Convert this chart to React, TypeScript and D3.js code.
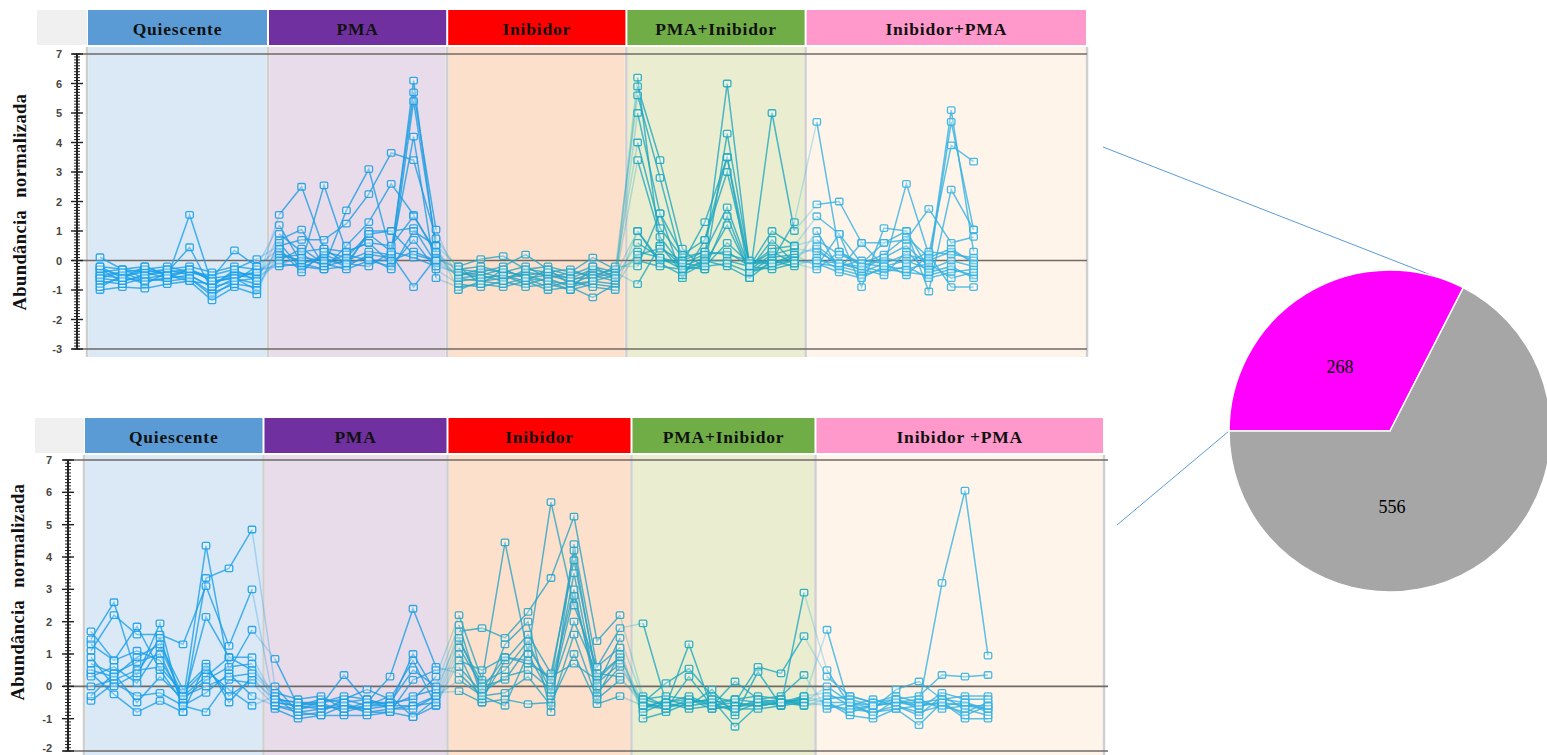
import React from 'react';
import * as d3 from 'd3';

// group names (8 samples each)
const topGroups = ['Quiescente', 'PMA', 'Inibidor', 'PMA+Inibidor', 'Inibidor+PMA'];
const bottomGroups = ['Quiescente', 'PMA', 'Inibidor', 'PMA+Inibidor', 'Inibidor +PMA'];
const topTicks = [7, 6, 5, 4, 3, 2, 1, 0, -1, -2, -3];
const bottomTicks = [7, 6, 5, 4, 3, 2, 1, 0, -1, -2];

// top cluster: profiles, 40 samples each
const topProfiles = [
  [-0.3, -0.5, -0.4, -0.6, 1.55, -0.8, -0.4, -0.5, 0.3, -0.1, 0.1, -0.2, 0.2, 0.1, 6.1, 0.3, -0.4, -0.5, -0.3, -0.6, -0.5, -0.7, -0.4, -0.6, 6.2, 0.5, -0.2, 0.1, 6.0, -0.3, 0.2, 0.4, 0.3, -0.1, -0.3, 0.1, 0.5, -0.2, 5.1, 0.3],
  [-0.6, -0.7, -0.5, -0.4, 0.45, -1.0, -0.6, -0.8, 1.55, 2.5, 0.4, -0.1, 0.9, 0.3, 5.7, 1.05, -0.7, -0.6, -0.5, -0.8, -0.6, -0.9, -0.7, -0.8, 5.9, 3.4, 0.4, -0.3, 4.3, -0.1, 0.0, 1.3, 4.7, 0.3, -0.1, 0.6, 1.0, -0.3, 4.7, 1.05],
  [0.11, -0.3, -0.2, -0.5, -0.3, -0.6, 0.34, -0.2, 1.2, -0.1, 2.55, 0.3, 0.6, -0.1, 5.4, 0.5, -0.2, 0.05, 0.15, -0.3, -0.2, -0.4, 0.1, -0.3, 5.6, 2.8, -0.1, 1.3, 3.5, -0.6, 5.0, 1.0, 1.9, 2.0, 0.6, -0.2, 2.6, 0.2, 3.9, 3.35],
  [-1.0, -0.9, -0.95, -0.8, -0.7, -1.35, -0.9, -1.15, 0.7, 1.05, -0.2, 1.7, 3.1, 0.2, 4.2, -0.6, -0.9, -0.8, -0.9, -0.7, -1.0, -0.9, -1.25, -0.8, 5.0, 1.6, -0.6, 0.7, 3.0, -0.2, 1.0, 0.5, 1.5, 0.9, -0.9, 1.1, 1.0, -1.05, 2.4, 1.05],
  [-0.5, -0.4, -0.3, -0.2, -0.4, -0.5, -0.3, 0.05, 0.5, 0.7, 0.7, 1.25, 2.25, 3.65, 3.4, 0.75, -0.3, -0.4, -0.2, 0.2, -0.3, -0.5, -0.2, -0.4, 4.0, 1.1, 0.1, 0.3, 1.8, -0.3, 0.7, -0.1, 1.0, -0.3, 0.6, 0.6, 0.7, 1.75, 0.6, 0.8],
  [-0.8, -0.6, -0.7, -0.6, -0.5, -0.9, -0.7, -0.6, -0.1, -0.2, -0.3, 0.5, 1.3, 2.6, 1.55, 0.2, -0.6, -0.7, -0.6, -0.5, -0.7, -0.8, -0.5, -0.7, 3.4, 0.8, -0.2, -0.3, 1.5, -0.4, 0.1, 0.2, 0.4, -0.2, -0.4, -0.1, -0.5, 0.2, -0.9, -0.9],
  [-0.2, -0.3, -0.4, -0.3, -0.2, -0.4, -0.2, -0.3, -0.2, -0.1, -0.3, -0.2, 1.0, 1.0, 1.1, -0.1, -0.5, -0.4, -0.6, -0.4, -0.5, -0.6, -0.3, -0.5, 1.0, 0.0, -0.1, -0.2, 0.6, -0.1, -0.1, 0.2, -0.2, 0.9, -0.1, -0.2, 0.0, -0.3, 0.0, -0.2],
  [-0.7, -0.8, -0.6, -0.7, -0.6, -1.1, -0.8, -0.9, 0.2, 0.0, -0.1, -0.3, 0.0, -0.2, 0.7, -0.3, -0.8, -0.9, -0.7, -0.9, -0.8, -1.0, -0.8, -0.9, 0.3, 0.1, -0.3, 0.0, -0.2, -0.6, 0.0, -0.2, 0.1, -0.3, -0.5, -0.3, -0.4, -0.5, -0.3, -0.5],
  [-0.4, -0.3, -0.6, -0.5, -0.7, -0.8, -0.5, -0.4, 0.1, 0.2, -0.2, 0.0, 0.3, 0.2, -0.9, 0.1, -0.3, -0.2, -0.4, -0.5, -0.4, -0.3, -0.6, -0.4, -0.8, 0.5, -0.4, 0.0, 0.0, -0.2, -0.3, -0.1, -0.3, 0.3, -0.2, -0.4, -0.2, -0.6, -0.4, -0.3],
  [-0.9, -0.5, -0.8, -0.4, -0.3, -0.7, -0.6, -1.0, 0.6, -0.3, 0.2, -0.1, 0.1, -0.3, 1.0, 0.5, -1.0, -0.7, -0.8, -0.6, -0.9, -0.7, -0.9, -1.0, 1.0, -0.1, -0.5, -0.1, 1.2, -0.4, -0.1, 0.1, 0.5, -0.1, -0.3, -0.5, 0.3, -0.4, -0.2, -0.6],
  [-0.5, -0.6, -0.3, -0.5, -0.4, -0.6, -0.5, -0.6, 0.0, 0.4, -0.1, 0.2, 0.0, 0.0, 0.3, 0.0, -0.5, -0.3, -0.4, -0.2, -0.6, -0.4, -0.5, -0.3, 0.0, -0.2, -0.3, -0.2, -0.1, -0.4, -0.2, 0.0, -0.1, -0.2, 0.0, -0.1, 0.2, 0.0, 0.3, 0.0],
  [-0.3, -0.7, -0.5, -0.3, -0.5, -0.9, -0.3, -0.7, 0.9, 0.3, 0.4, 0.3, 0.6, 0.5, 1.5, 0.3, -0.6, -0.5, -0.7, -0.3, -0.4, -0.6, -0.6, -0.2, -0.2, 1.6, 0.2, 0.7, 3.5, -0.2, 0.4, 0.5, 0.7, 0.2, -0.1, 0.2, 0.8, 0.1, 0.4, -0.1],
  [-0.6, -0.4, -0.7, -0.6, -0.3, -0.7, -0.6, -0.4, -0.1, 0.1, 0.0, -0.1, -0.2, 0.3, 0.1, -0.2, -0.4, -0.6, -0.5, -0.7, -0.3, -0.8, -0.7, -0.5, 0.2, 0.4, 0.0, 0.3, 0.2, 0.0, -0.1, 0.0, -0.1, -0.4, -0.6, -0.2, -0.3, -0.1, -0.6, -0.4],
  [-0.2, -0.6, -0.2, -0.5, -0.6, -1.2, -0.7, -0.2, 0.4, -0.4, 0.3, 0.1, 0.9, 1.0, 0.2, 0.0, -0.2, -0.8, -0.3, -0.6, -0.7, -1.0, -0.2, -0.6, 0.6, 0.1, -0.1, 0.2, 0.3, -0.2, 0.3, -0.1, 0.0, -0.1, -0.2, 0.1, -0.1, 0.3, 0.2, 0.1],
];

// bottom cluster
const bottomProfiles = [
  [1.7, 0.8, 1.85, 0.5, -0.5, 4.35, 0.5, 1.75, 0.85, -0.6, -0.5, -0.4, -0.6, -0.5, -0.4, 0.3, 2.2, 0.2, 4.45, 1.0, 5.7, 2.5, 0.6, 1.8, 1.95, -0.5, -0.4, -0.6, -0.5, -0.6, -0.5, -0.4, 1.75, -0.7, -0.6, -0.5, -0.6, -0.5, -0.6, -0.7],
  [1.45, 2.6, 0.3, 1.95, -0.8, 3.35, 3.65, 4.85, 0.0, -0.8, -0.7, -0.6, -0.8, -0.7, -0.6, -0.3, 1.7, 1.8, 1.5, 2.3, 3.35, 5.25, 1.4, 2.2, -0.3, -0.6, 1.3, -0.7, -0.6, -0.5, -0.6, 2.9, 0.5, -0.6, -0.8, -0.7, -0.6, 3.2, 6.05, 0.95],
  [1.1, 2.2, 1.6, 1.6, 1.3, 3.1, 1.25, 3.0, -0.7, -1.0, -0.9, -0.9, -0.9, -0.8, -0.95, -0.6, 1.0, -0.5, 1.3, 2.0, -0.8, 4.4, 0.6, 1.2, -1.0, -0.8, -0.5, -0.4, -1.25, -0.6, -0.5, -0.4, -0.5, -0.9, -1.0, -0.7, -1.2, -0.5, -1.0, -1.0],
  [0.7, 0.4, 0.75, 1.0, -0.5, 2.15, 0.9, 0.9, -0.4, -0.5, -0.6, 0.35, -0.5, 0.3, 2.4, 0.6, 0.4, -0.3, -0.6, 1.0, -0.3, 3.5, -0.2, 0.6, -0.5, 0.1, 0.55, -0.3, -0.5, 0.6, 0.4, 1.55, 0.3, -0.3, -0.5, -0.4, -0.3, 0.35, 0.3, 0.35],
  [0.4, -0.25, -0.8, -0.45, -0.8, 0.7, -0.5, 0.3, -0.5, -0.6, -0.4, -0.5, -0.4, -0.6, 1.0, -0.2, -0.15, -0.5, -0.4, -0.55, -0.5, 1.0, -0.55, -0.3, -0.6, -0.7, 0.3, -0.6, 0.15, -0.4, -0.3, 0.35, -0.7, -0.5, -0.7, -0.1, 0.15, -0.4, -0.3, -0.3],
  [0.0, 0.2, 0.5, 0.6, -0.2, 0.5, -0.1, -0.6, -0.3, -0.9, -0.8, -0.4, -0.1, -0.4, 0.8, -0.6, 0.8, 0.5, 0.9, 0.7, 0.3, 0.7, 0.2, 0.9, -0.7, -0.4, -0.6, -0.1, -0.9, 0.45, -0.6, -0.3, -0.2, -0.6, -0.4, -0.6, -0.8, -0.6, -0.8, -0.5],
  [-0.45, 0.1, -0.3, -0.2, -0.6, -0.8, 0.2, 0.1, -0.6, -0.7, -0.5, -0.8, -0.6, -0.3, -0.95, -0.4, 1.4, 0.1, 0.5, 1.4, -0.2, 2.8, 0.0, 1.5, -0.4, -0.3, -0.4, -0.5, -0.4, -0.3, -0.4, -0.6, -0.4, -0.3, -0.5, -0.3, -0.5, -0.6, -0.5, -0.8],
  [0.3, 0.6, 0.1, 1.2, -0.3, 0.3, 0.9, 0.5, -0.2, -0.4, -0.3, -0.7, -0.5, -0.5, 0.5, 0.0, 1.9, -0.4, 0.8, 1.6, 0.4, 3.9, 0.3, 0.9, -0.5, -0.7, -0.4, -0.7, -0.6, -0.6, -0.5, -0.3, -0.5, -0.8, -0.6, -0.5, -0.4, -0.7, -0.6, -0.6],
  [0.9, 0.0, 0.4, 1.5, -0.6, -0.2, 0.4, -0.3, -0.6, -0.8, -0.9, -0.6, -0.7, -0.6, -0.6, -0.5, 1.2, 0.0, 0.2, 1.2, 0.1, 3.0, -0.3, 1.0, -0.8, -0.5, -0.7, -0.6, -0.7, -0.7, -0.6, -0.5, -0.6, -0.7, -0.8, -0.6, -0.9, -0.3, -0.7, -0.9],
  [-0.3, 0.4, -0.5, 0.3, -0.4, 0.2, 0.6, 0.7, -0.5, -0.6, -0.7, -0.5, -0.8, -0.8, 0.2, 0.5, 0.6, -0.2, 0.3, 0.5, -0.1, 2.0, 0.4, 0.3, -0.6, -0.6, -0.6, -0.5, -0.8, -0.5, -0.4, -0.5, 0.0, -0.5, -0.9, -0.4, -0.7, -0.2, -0.4, -0.4],
  [1.3, 0.8, 1.1, 0.8, -0.3, 0.0, 0.3, 0.4, -0.3, -0.7, -0.6, -0.7, -0.6, -0.6, -0.3, -0.1, 1.5, -0.1, 0.9, 0.8, 0.2, 4.2, 0.1, 0.7, -0.6, -0.5, -0.3, -0.6, -0.4, -0.5, -0.5, -0.5, -0.3, -0.4, -0.6, -0.5, -0.5, -0.4, -0.5, -0.7],
  [0.5, 0.3, 0.9, 1.3, -0.1, 0.6, -0.3, 0.2, -0.4, -0.5, -0.5, -0.3, -0.4, -0.7, -0.7, -0.3, 0.2, -0.3, -0.2, 0.3, -0.6, 1.6, -0.4, 0.2, -0.4, -0.6, -0.5, -0.4, -0.7, -0.4, -0.5, -0.6, -0.5, -0.5, -0.6, -0.4, -0.6, -0.5, -0.9, -0.6],
];

// pie: genes per cluster
const pieLabels = ['268', '556'];
const pieValues = [268, 556];

const headerColors = ['#5b9bd5', '#7030a0', '#ff0000', '#70ad47', '#ff99cc'];
const bandColors = ['#dbe8f6', '#e8dcea', '#fde0cc', '#eaedcf', '#fef4e9'];
const lineColors = ['#1aa0e8', '#1d9de2', '#28a5c6', '#1ea8c2', '#33b2e2'];
const PER = 8;

type PanelProps = {
  groups: string[];
  profiles: number[][];
  ticks: number[];
  headerY: [number, number];
  bandY: [number, number];
  xRange: [number, number];
  leftEdge: number;
  rightEdge: number;
  lineRight: number;
  grayLeft: number;
  axisX: number;
  labelX: number;
  titleX: number;
  titleY: number;
  yDomain: [number, number];
  yRange: [number, number];
};

const Panel = (p: PanelProps) => {
  const n = p.profiles[0].length;
  const x = d3.scaleLinear().domain([0, n - 1]).range(p.xRange);
  const y = d3.scaleLinear().domain(p.yDomain).range(p.yRange);
  const edges = [p.leftEdge, ...d3.range(1, p.groups.length).map((g) => x(g * PER - 0.5)), p.rightEdge];
  const line = d3
    .line<number>()
    .defined((d) => !isNaN(d))
    .x((_, i) => x(i))
    .y((d) => y(d));
  const minor = d3.range(p.yDomain[0] * 10, p.yDomain[1] * 10 + 1).map((v) => v / 10);
  const hLines = [p.yDomain[1], 0, p.yDomain[0]];

  return (
    <g>
      <rect x={p.grayLeft} y={p.headerY[0]} width={p.leftEdge - p.grayLeft} height={p.headerY[1] - p.headerY[0]} fill="#f0f0f0" />
      {p.groups.map((g, k) => (
        <g key={g}>
          <rect x={edges[k] + 1.5} y={p.bandY[0]} width={edges[k + 1] - edges[k] - 3} height={p.bandY[1] - p.bandY[0]} fill={bandColors[k]} />
          <rect x={edges[k] + 1} y={p.headerY[0]} width={edges[k + 1] - edges[k] - 2} height={p.headerY[1] - p.headerY[0]} fill={headerColors[k]} />
          <text
            x={(edges[k] + edges[k + 1]) / 2}
            y={(p.headerY[0] + p.headerY[1]) / 2 + 1}
            textAnchor="middle"
            dominantBaseline="central"
            fontFamily="'Liberation Serif', serif"
            fontWeight="bold"
            fontSize={17.5}
            letterSpacing={0.8}
            fill="#111"
          >
            {g}
          </text>
        </g>
      ))}
      {edges.map((e, k) => (
        <line key={k} x1={e} x2={e} y1={p.bandY[0]} y2={p.bandY[1]} stroke="#cfcfcf" strokeWidth={2.5} />
      ))}
      {hLines.map((v) => (
        <line key={v} x1={p.axisX - 5} x2={p.lineRight} y1={y(v)} y2={y(v)} stroke="#6f6a66" strokeWidth={1.6} />
      ))}

      {/* profiles: segments inside each group, faded bridges between groups */}
      {p.profiles.map((s, si) => (
        <g key={si} fill="none" strokeWidth={1.5}>
          {p.groups.map((_, k) => {
            const seg = s.map((v, i) => (i >= k * PER && i < (k + 1) * PER ? v : NaN));
            return <path key={k} d={line(seg) || ''} stroke={lineColors[k]} strokeOpacity={0.8} />;
          })}
          {d3.range(1, p.groups.length).map((k) => {
            const i = k * PER;
            return (
              <line key={'b' + k} x1={x(i - 1)} y1={y(s[i - 1])} x2={x(i)} y2={y(s[i])} stroke={lineColors[k]} strokeOpacity={0.3} />
            );
          })}
        </g>
      ))}
      {p.profiles.map((s, si) => (
        <g key={'m' + si}>
          {s.map((v, i) => (
            <rect
              key={i}
              x={x(i) - 3.75}
              y={y(v) - 3.25}
              width={7.5}
              height={6.5}
              rx={1.3}
              fill="#ffffff"
              fillOpacity={0.3}
              stroke={lineColors[Math.floor(i / PER)]}
              strokeWidth={1.3}
              strokeOpacity={0.9}
            />
          ))}
        </g>
      ))}

      {/* y axis */}
      <line x1={p.axisX} x2={p.axisX} y1={y(p.yDomain[0])} y2={y(p.yDomain[1])} stroke="#222" strokeWidth={2} />
      {minor.map((v) => (
        <line key={v} x1={p.axisX - 3} x2={p.axisX + 3} y1={y(v)} y2={y(v)} stroke="#222" strokeWidth={1} />
      ))}
      {p.ticks.map((t) => (
        <g key={t}>
          <line x1={p.axisX - 6} x2={p.axisX + 6} y1={y(t)} y2={y(t)} stroke="#222" strokeWidth={1.4} />
          <text
            x={p.labelX}
            y={Math.min(y(t), 748)}
            textAnchor="end"
            dominantBaseline="central"
            fontFamily="'Liberation Sans', Arial, sans-serif"
            fontWeight="bold"
            fontSize={11}
            fill="#4a4540"
          >
            {t}
          </text>
        </g>
      ))}
      <text
        transform={`translate(${p.titleX},${p.titleY}) rotate(-90)`}
        textAnchor="middle"
        dominantBaseline="central"
        fontFamily="'Liberation Serif', serif"
        fontWeight="bold"
        fontSize={18.5}
        letterSpacing={0.4}
        fill="#111"
        style={{ wordSpacing: '7px' }}
      >
        Abundância normalizada
      </text>
    </g>
  );
};

const App = () => {
  const W = 1547;
  const H = 755;
  const cx = 1390;
  const cy = 431;
  const r = 161;
  const arcs = d3.pie<number>().sort(null).startAngle(-Math.PI / 2).endAngle(1.5 * Math.PI)(pieValues);
  const arc = d3.arc<d3.PieArcDatum<number>>().innerRadius(0).outerRadius(r);
  const labelNudge = [
    [-8, 5],
    [-40, 7],
  ];
  const pt = (a: number) => [cx + r * Math.sin(a), cy - r * Math.cos(a)];
  const p1 = pt(arcs[0].endAngle);
  const p2 = pt(arcs[0].startAngle);

  return (
    <svg width={W} height={H} style={{ position: 'absolute', left: 0, top: 0, background: '#fff' }}>
      <Panel
        groups={topGroups}
        profiles={topProfiles}
        ticks={topTicks}
        headerY={[10, 45]}
        bandY={[47, 357]}
        xRange={[100, 973.6]}
        leftEdge={87}
        rightEdge={1087}
        lineRight={1087}
        grayLeft={37}
        axisX={77}
        labelX={62}
        titleX={20}
        titleY={202}
        yDomain={[-3, 7]}
        yRange={[349, 54]}
      />
      <Panel
        groups={bottomGroups}
        profiles={bottomProfiles}
        ticks={bottomTicks}
        headerY={[418, 453]}
        bandY={[455, 755]}
        xRange={[91, 988]}
        leftEdge={84}
        rightEdge={1104}
        lineRight={1108}
        grayLeft={35}
        axisX={68}
        labelX={52}
        titleX={18}
        titleY={592}
        yDomain={[-2, 7]}
        yRange={[751, 460]}
      />

      <line x1={1103} y1={147} x2={p1[0]} y2={p1[1]} stroke="#5b9bd5" strokeWidth={1} />
      <line x1={1117} y1={525} x2={p2[0]} y2={p2[1]} stroke="#5b9bd5" strokeWidth={1} />

      <g transform={`translate(${cx},${cy})`}>
        {arcs.map((a, i) => (
          <path key={i} d={arc(a) || ''} fill={i === 0 ? '#ff00ff' : '#a6a6a6'} stroke="#fff" strokeWidth={1.5} />
        ))}
        {arcs.map((a, i) => {
          const [lx, ly] = arc.centroid(a);
          return (
            <text
              key={'t' + i}
              x={lx + labelNudge[i][0]}
              y={ly + labelNudge[i][1]}
              textAnchor="middle"
              dominantBaseline="central"
              fontFamily="'Liberation Serif', serif"
              fontSize={18}
              fill="#000"
            >
              {pieLabels[i]}
            </text>
          );
        })}
      </g>
    </svg>
  );
};

export default App;
